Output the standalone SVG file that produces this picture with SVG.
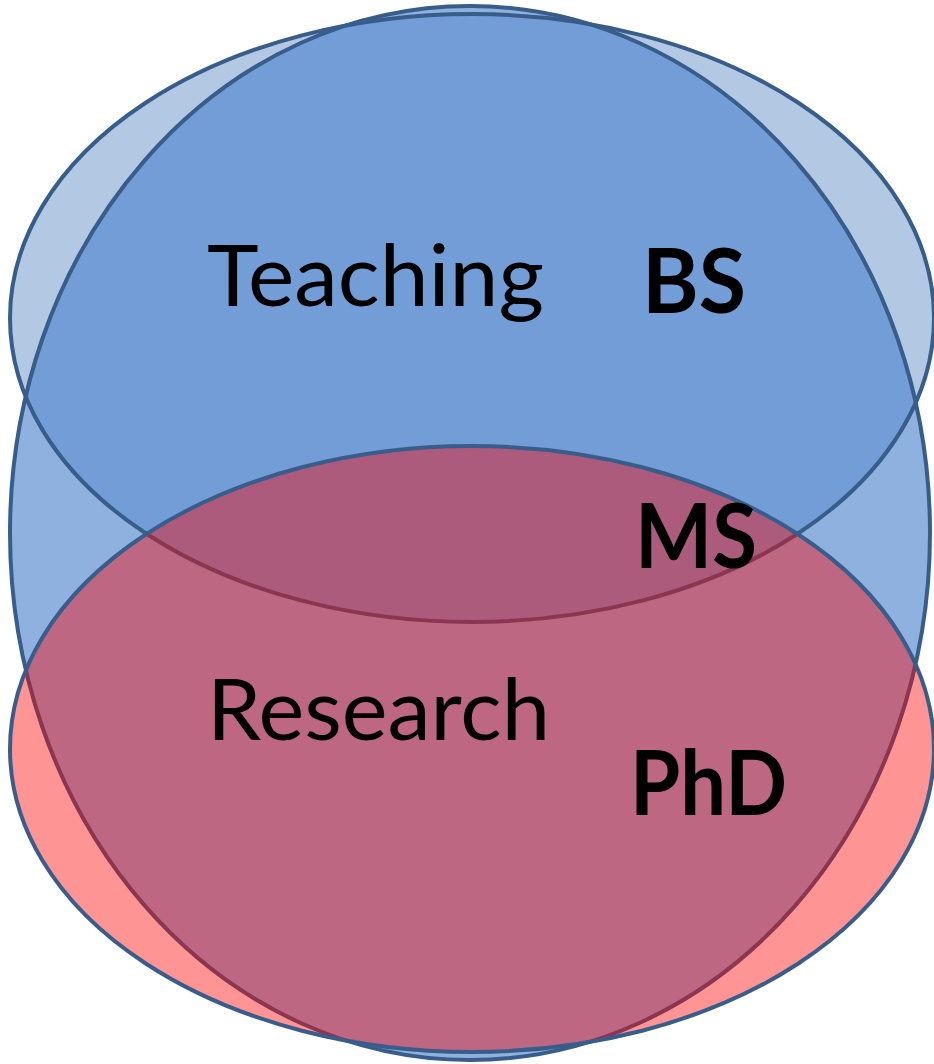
<svg xmlns="http://www.w3.org/2000/svg" xmlns:xlink="http://www.w3.org/1999/xlink" width="934" height="1064" viewBox="0 0 934 1064">
  <style>
    .edge { fill: none; stroke: #385D8A; stroke-width: 4; }
    .lbl { font-family: Lato, "Open Sans", "Liberation Sans", sans-serif; fill: #000000; }
    .reg { font-size: 85px; font-weight: 400; }
    .bold { font-size: 90px; font-weight: 700; }
  </style>
  <defs>
    <ellipse id="shape-top" cx="472" cy="318" rx="462" ry="304"/>
    <ellipse id="shape-tall" cx="470" cy="533" rx="460" ry="527"/>
    <ellipse id="shape-bottom" cx="472" cy="749" rx="462" ry="303"/>
  </defs>
  <rect width="934" height="1064" fill="#FFFFFF"/>

  <g id="teaching">
    <use xlink:href="#shape-top" fill="#4F81BD" fill-opacity="0.43"/>
  </g>
  <g id="degrees">
    <use xlink:href="#shape-tall" fill="#4C83CE" fill-opacity="0.63"/>
  </g>
  <g id="outlines">
    <use xlink:href="#shape-top" class="edge"/>
    <use xlink:href="#shape-tall" class="edge"/>
  </g>
  <g id="research">
    <use xlink:href="#shape-bottom" fill="#FF0000" fill-opacity="0.42"/>
    <use xlink:href="#shape-bottom" class="edge"/>
  </g>

  <g id="labels">
    <text class="lbl reg" x="207" y="306" textLength="337" lengthAdjust="spacingAndGlyphs">Teaching</text>
    <text class="lbl bold" x="642" y="313" textLength="104" lengthAdjust="spacingAndGlyphs">BS</text>
    <text class="lbl bold" x="635" y="568" textLength="122" lengthAdjust="spacingAndGlyphs">MS</text>
    <text class="lbl reg" x="207" y="740" textLength="343" lengthAdjust="spacingAndGlyphs">Research</text>
    <text class="lbl bold" x="630" y="815" textLength="157" lengthAdjust="spacingAndGlyphs">PhD</text>
  </g>
</svg>
